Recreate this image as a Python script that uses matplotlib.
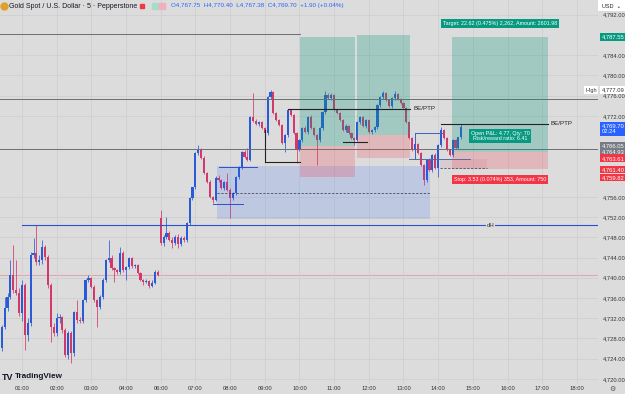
import numpy as np
import matplotlib.pyplot as plt
from matplotlib.lines import Line2D
from matplotlib.patches import Rectangle

plt.rcParams['font.family'] = ['Liberation Sans', 'DejaVu Sans']

# 5-minute XAUUSD candles, bar index counted from 00:00 (12 bars per hour slot)
first_bar = 5
opens = [
    4726.1, 4730.3, 4734.0, 4736.2, 4740.6, 4737.6, 4737.0, 4733.1, 4738.6, 4728.7,
    4731.1, 4744.5, 4744.9, 4743.1, 4743.5, 4746.1, 4744.1, 4738.6, 4730.3, 4729.0,
    4732.0, 4732.2, 4729.7, 4724.7, 4729.1, 4725.1, 4733.3, 4731.7, 4731.4, 4735.6,
    4739.6, 4739.9, 4738.2, 4735.6, 4734.2, 4736.2, 4739.6, 4743.5, 4744.0, 4741.9,
    4741.5, 4741.1, 4744.9, 4741.5, 4742.1, 4743.9, 4742.3, 4742.5, 4741.0, 4739.6,
    4739.2, 4739.4, 4738.4, 4739.0, 4741.1,
    4751.8, 4746.9, 4748.1, 4748.9, 4747.5, 4746.9, 4748.1, 4746.7, 4747.9, 4747.5,
    4750.8, 4755.8, 4757.9, 4764.7, 4765.3, 4763.7, 4760.7, 4758.9, 4756.0, 4755.4,
    4759.7, 4759.3, 4757.7, 4758.9, 4757.4, 4755.8, 4756.8, 4759.9, 4761.9, 4764.9,
    4763.9, 4763.3, 4771.8, 4771.0, 4770.4, 4770.8, 4769.6, 4768.6, 4775.7, 4776.7,
    4772.6, 4771.2, 4770.2, 4766.6, 4768.2, 4773.2, 4772.2, 4768.6, 4765.3, 4767.2,
    4769.6, 4768.8, 4771.8, 4769.6, 4768.2, 4767.2, 4769.6, 4772.8, 4776.1, 4775.5,
    4776.1, 4773.2, 4772.6, 4771.2, 4769.2, 4770.0, 4768.6, 4767.6, 4767.2, 4770.8,
    4771.8, 4770.0, 4771.2, 4768.8, 4769.2, 4769.8, 4774.1, 4775.7, 4776.5, 4775.1,
    4773.9, 4775.5, 4776.3, 4775.3, 4774.5, 4773.6, 4770.8, 4767.6, 4765.3, 4766.4,
    4764.7, 4762.3, 4759.3, 4763.3, 4761.3, 4764.3, 4761.7, 4766.2, 4769.2, 4767.6,
    4765.3, 4764.3, 4767.2, 4765.7, 4767.75,
]
highs = [
    4730.7, 4736.2, 4737.0, 4743.5, 4746.5, 4743.5, 4738.0, 4739.5, 4739.0, 4732.0,
    4745.0, 4747.9, 4750.4, 4744.5, 4747.5, 4746.5, 4744.5, 4739.0, 4731.0, 4733.0,
    4732.8, 4732.5, 4730.0, 4729.5, 4729.5, 4733.5, 4735.6, 4732.2, 4735.8, 4739.8,
    4740.6, 4740.2, 4738.5, 4735.9, 4736.5, 4739.9, 4743.8, 4747.5, 4744.5, 4742.2,
    4741.8, 4746.0, 4745.3, 4742.4, 4744.2, 4744.1, 4742.8, 4742.7, 4741.2, 4739.8,
    4739.8, 4739.6, 4739.5, 4741.5, 4741.5,
    4753.4, 4748.5, 4752.0, 4749.3, 4748.0, 4748.4, 4748.6, 4748.2, 4748.3, 4751.0,
    4756.0, 4758.0, 4764.9, 4766.2, 4765.7, 4764.1, 4761.0, 4759.3, 4756.2, 4760.1,
    4760.3, 4759.5, 4759.1, 4760.7, 4757.8, 4757.0, 4760.1, 4762.1, 4765.1, 4765.3,
    4765.7, 4772.0, 4776.5, 4771.4, 4771.0, 4771.0, 4769.8, 4775.9, 4777.09, 4776.9,
    4772.8, 4771.4, 4770.4, 4768.4, 4773.4, 4773.4, 4772.4, 4768.8, 4767.4, 4769.8,
    4769.9, 4772.0, 4772.1, 4769.8, 4768.5, 4769.8, 4773.0, 4777.0, 4776.6, 4776.5,
    4776.3, 4773.4, 4772.8, 4771.4, 4770.3, 4770.2, 4768.8, 4767.8, 4771.0, 4772.0,
    4772.0, 4771.4, 4771.4, 4769.4, 4770.0, 4774.3, 4775.9, 4776.9, 4776.7, 4775.3,
    4775.7, 4776.9, 4776.5, 4775.5, 4774.7, 4773.8, 4771.0, 4767.8, 4766.8, 4766.6,
    4764.9, 4762.5, 4763.5, 4763.6, 4764.5, 4764.6, 4766.4, 4769.8, 4769.4, 4767.8,
    4765.5, 4767.4, 4767.4, 4767.8, 4770.40,
]
lows = [
    4725.5, 4729.8, 4733.5, 4735.8, 4737.0, 4736.5, 4732.5, 4731.5, 4725.7, 4727.5,
    4730.5, 4744.0, 4742.5, 4742.5, 4742.8, 4743.5, 4738.0, 4727.3, 4728.5, 4728.5,
    4731.0, 4729.0, 4724.3, 4724.0, 4723.2, 4724.5, 4731.0, 4731.0, 4731.0, 4735.2,
    4739.2, 4737.9, 4735.3, 4730.3, 4733.8, 4735.8, 4739.2, 4743.1, 4741.6, 4739.2,
    4740.8, 4740.8, 4741.2, 4739.6, 4741.8, 4742.0, 4742.0, 4740.7, 4739.4, 4738.6,
    4738.9, 4738.0, 4738.1, 4738.7, 4740.3,
    4746.5, 4746.3, 4747.6, 4747.3, 4745.9, 4746.5, 4745.9, 4746.3, 4747.1, 4747.1,
    4750.4, 4755.4, 4757.5, 4764.3, 4763.5, 4760.5, 4758.7, 4755.8, 4754.8, 4755.2,
    4758.9, 4757.5, 4757.3, 4757.1, 4751.8, 4755.4, 4756.4, 4759.5, 4761.5, 4763.7,
    4763.0, 4763.0, 4770.8, 4770.2, 4770.0, 4769.4, 4768.4, 4768.2, 4775.3, 4772.4,
    4771.0, 4770.0, 4766.4, 4764.9, 4767.8, 4772.0, 4768.4, 4762.7, 4765.0, 4766.8,
    4768.6, 4768.4, 4769.4, 4768.0, 4762.3, 4766.8, 4769.2, 4772.4, 4775.3, 4775.2,
    4773.0, 4772.4, 4771.0, 4769.0, 4768.9, 4768.4, 4767.4, 4766.2, 4767.0, 4770.4,
    4769.8, 4769.6, 4768.6, 4768.4, 4768.8, 4769.4, 4773.8, 4775.3, 4774.9, 4773.7,
    4773.5, 4775.1, 4775.1, 4774.3, 4773.4, 4770.6, 4767.4, 4765.1, 4765.0, 4764.5,
    4762.1, 4758.3, 4759.0, 4761.1, 4760.9, 4761.5, 4759.9, 4765.9, 4767.4, 4765.1,
    4764.1, 4763.9, 4765.5, 4765.4, 4767.38,
]
closes = [
    4730.3, 4734.0, 4736.2, 4740.6, 4737.6, 4737.0, 4733.1, 4738.6, 4728.7, 4731.1,
    4744.5, 4744.9, 4743.1, 4743.5, 4746.1, 4744.1, 4738.6, 4730.3, 4729.0, 4732.0,
    4732.2, 4729.7, 4724.7, 4729.1, 4725.1, 4733.3, 4731.7, 4731.4, 4735.6, 4739.6,
    4739.9, 4738.2, 4735.6, 4734.2, 4736.2, 4739.6, 4743.5, 4744.0, 4741.9, 4741.5,
    4741.1, 4744.9, 4741.5, 4742.1, 4743.9, 4742.3, 4742.5, 4741.0, 4739.6, 4739.2,
    4739.4, 4738.4, 4739.0, 4741.1, 4740.6,
    4746.9, 4748.1, 4748.9, 4747.5, 4746.9, 4748.1, 4746.7, 4747.9, 4747.5, 4750.8,
    4755.8, 4757.9, 4764.7, 4765.3, 4763.7, 4760.7, 4758.9, 4756.0, 4755.4, 4759.7,
    4759.3, 4757.7, 4758.9, 4757.4, 4755.8, 4756.8, 4759.9, 4761.9, 4764.9, 4763.9,
    4763.3, 4771.8, 4771.0, 4770.4, 4770.8, 4769.6, 4768.6, 4775.7, 4776.7, 4772.6,
    4771.2, 4770.2, 4766.6, 4768.2, 4773.2, 4772.2, 4768.6, 4765.3, 4767.2, 4769.6,
    4768.8, 4771.8, 4769.6, 4768.2, 4767.2, 4769.6, 4772.8, 4776.1, 4775.5, 4776.1,
    4773.2, 4772.6, 4771.2, 4769.2, 4770.0, 4768.6, 4767.6, 4767.2, 4770.8, 4771.8,
    4770.0, 4771.2, 4768.8, 4769.2, 4769.8, 4774.1, 4775.7, 4776.5, 4775.1, 4773.9,
    4775.5, 4776.3, 4775.3, 4774.5, 4773.6, 4770.8, 4767.6, 4765.3, 4766.4, 4764.7,
    4762.3, 4759.3, 4763.3, 4761.3, 4764.3, 4761.7, 4766.2, 4769.2, 4767.6, 4765.3,
    4764.3, 4767.2, 4765.7, 4767.75, 4769.70,
]

hour_labels = ['01:00', '02:00', '03:00', '04:00', '06:00', '07:00', '08:00', '09:00',
               '10:00', '11:00', '12:00', '13:00', '14:00', '15:00', '16:00', '17:00', '18:00']
price_ticks = [4720, 4724, 4728, 4732, 4736, 4740, 4744, 4748, 4752, 4756,
               4772, 4776, 4780, 4784, 4792]

# drawn levels
dh_level = 4750.4
prev_close_level = 4740.6
grey_levels = [4775.3, 4765.5]
top_level = 4788.2
# long positions: (bar from, bar to, entry, stop, target)
positions = [(108.2, 127.2, 4766.05, 4759.82, 4787.6),
             (128.0, 146.3, 4768.2, 4763.61, 4788.0),
             (160.8, 194.0, 4764.93, 4761.40, 4787.55)]
# axis price tags: (price, text, colour)
tags = [(4787.55, '4,787.55', '#089981'),
        (4766.05, '4,766.05', '#787b86'),
        (4764.93, '4,764.93', '#787b86'),
        (4763.61, '4,763.61', '#f23645'),
        (4761.40, '4,761.40', '#f23645'),
        (4759.82, '4,759.82', '#f23645')]
last_close = 4769.70
high_mark = 4777.09

BG = '#dcdcdc'
UP = '#2a5bd7'
DOWN = '#d2386a'
AXFS = 4.2

W, H = 625, 394
fig = plt.figure(figsize=(W / 100, H / 100), dpi=100, facecolor=BG)
ax = fig.add_axes([0, 11 / H, 598 / W, 383 / H])
ax.set_facecolor(BG)
ax.set_xlim(4.4, 211.3)
ax.set_ylim(4719.2, 4794.9)
for s in ax.spines.values():
    s.set_visible(False)


def fpx(x, y):
    return x / W, 1 - y / H


# grid and axes
ax.set_xticks([12 * (k + 1) for k in range(len(hour_labels))])
ax.set_xticklabels(hour_labels)
ax.set_yticks(price_ticks)
ax.set_yticklabels(['{:,.2f}'.format(p) for p in price_ticks])
ax.yaxis.tick_right()
ax.tick_params(axis='x', length=0, pad=2.5, labelsize=AXFS, labelcolor='#333333')
ax.tick_params(axis='y', length=0, pad=3.5, labelsize=AXFS, labelcolor='#333333')
ax.grid(True, color='#d0d0d0', lw=0.6, zorder=0)

# candles
bars = np.arange(first_bar, first_bar + len(closes))
o, h, l, c = (np.array(v) for v in (opens, highs, lows, closes))
cols = np.where(c >= o, UP, DOWN)
ax.vlines(bars, l, h, colors=cols, lw=0.55, zorder=2)
ax.bar(bars, np.maximum(np.abs(c - o), 0.15), bottom=np.minimum(o, c),
       width=0.74, color=cols, lw=0, zorder=2)

# horizontal levels
ax.axhline(prev_close_level, color='#e39aa6', lw=0.6, zorder=1)
for g in grey_levels:
    ax.axhline(g, color='#6e6e6e', lw=0.7, zorder=3)
ax.plot([4.4, 108.2], [top_level, top_level], color='#6e6e6e', lw=0.7, zorder=3)
ax.plot([12, 211.3], [dh_level, dh_level], color='#2f4fd0', lw=0.8, zorder=3)
ax.text(174, dh_level, 'dH', fontsize=4.3, ha='center', va='center', color='#333',
        bbox=dict(boxstyle='square,pad=0.1', fc=BG, ec='none'), zorder=4)

# liquidity box
ax.add_patch(Rectangle((79.5, 4751.6), 153.2 - 79.5, 4762.1 - 4751.6,
                       fc='#2962ff', alpha=0.16, lw=0, zorder=3))
ax.plot([79.5, 153.2], [4756.8, 4756.8], color='#3d3d55', lw=0.55, ls=(0, (3, 2)), zorder=3)
ax.plot([80.2, 93.3], [4761.9, 4761.9], color='#2f4fd0', lw=0.7, zorder=3)
ax.plot([78.1, 88.5], [4754.6, 4754.6], color='#2f4fd0', lw=0.7, zorder=3)

# long positions
for x0, x1, entry, stop, target in positions:
    ax.add_patch(Rectangle((x0, entry), x1 - x0, target - entry,
                           fc='#089981', alpha=0.28, lw=0, zorder=3))
    ax.add_patch(Rectangle((x0, stop), x1 - x0, entry - stop,
                           fc='#f23645', alpha=0.22, lw=0, zorder=3))

# black structure lines
k = dict(color='#222222', lw=0.8, zorder=4)
ax.plot([96.1, 108.2], [4762.9, 4762.9], **k)
ax.plot([96.1, 96.1], [4762.9, 4769.2], **k)
ax.plot([104.0, 146.3], [4773.4, 4773.4], **k)
ax.plot([123.1, 131.4], [4766.8, 4766.8], **k)
ax.plot([157.0, 194.0], [4770.4, 4770.4], **k)
ax.text(147.3, 4773.4, 'BE/PTP', fontsize=4.4, va='center', color='#222', zorder=5)
ax.text(195.0, 4770.4, 'BE/PTP', fontsize=4.4, va='center', color='#222', zorder=5)

# small box near the last bars
ax.plot([148.0, 157.3], [4768.6, 4768.6], color='#3f5fc8', lw=0.7, zorder=4)
ax.plot([148.0, 148.0], [4768.6, 4763.5], color='#3f5fc8', lw=0.7, zorder=4)
ax.plot([145.9, 167.0], [4763.5, 4763.5], color='#5a6a9a', lw=0.7, zorder=4)
ax.add_patch(Rectangle((156.6, 4761.7), 172.9 - 156.6, 4763.5 - 4761.7,
                       fc='#c06080', alpha=0.12, lw=0, zorder=3))
ax.plot([156.6, 172.9], [4761.7, 4761.7], color='#3d3d55', lw=0.55, ls=(0, (3, 2)), zorder=3)

# position labels
box = lambda fc: dict(boxstyle='square,pad=0.35', fc=fc, ec='none')
ax.text(177.4, 4790.2, 'Target: 22.62 (0.475%) 2,262, Amount: 2601.98', fontsize=3.9,
        color='white', ha='center', va='center', bbox=box('#089981'), zorder=6)
ax.text(177.4, 4768.0, 'Open P&L: 4.77, Qty: 70\nRisk/reward ratio: 6.41', fontsize=3.9,
        color='white', ha='center', va='center', linespacing=1.1,
        bbox=box('#089981'), zorder=6)
ax.text(177.4, 4759.5, 'Stop: 3.53 (0.074%) 353, Amount: 750', fontsize=3.9,
        color='white', ha='center', va='center', bbox=box('#f23645'), zorder=6)

# price axis tags
yt = ax.get_yaxis_transform()
for p, t, fc in tags:
    ax.text(1.006, p, t, transform=yt, fontsize=AXFS, color='white', ha='left', va='center',
            bbox=dict(boxstyle='square,pad=0.25', fc=fc, ec='none'), clip_on=False, zorder=10)
ax.text(1.006, last_close - 0.3, '{:,.2f}\n02:24'.format(last_close), transform=yt,
        fontsize=AXFS, color='white', ha='left', va='center', linespacing=1.2,
        bbox=dict(boxstyle='square,pad=0.25', fc='#2962ff', ec='none'), clip_on=False, zorder=11)
ax.text(1.006, high_mark, '{:,.2f}'.format(high_mark), transform=yt, fontsize=AXFS,
        color='#333', ha='left', va='center',
        bbox=dict(boxstyle='square,pad=0.25', fc='white', ec='none'), clip_on=False, zorder=10)
ax.text(0.988, high_mark, 'High', transform=yt, fontsize=4.0, color='#333', ha='center',
        va='center', bbox=dict(boxstyle='square,pad=0.25', fc='white', ec='none'), zorder=10)

# USD box top right
fig.add_artist(Rectangle(fpx(598, 11), 27 / W, 11 / H, transform=fig.transFigure,
                         fc='white', ec='none', zorder=20))
fig.text(*fpx(602, 6), 'USD  ⌄', fontsize=4, va='center', color='#222', zorder=21)

# header
fig.add_artist(Line2D(*zip(fpx(4, 6)), marker='o', ms=5, color='#e0a12b',
                      transform=fig.transFigure))
fig.text(*fpx(9, 6), 'Gold Spot / U.S. Dollar · 5 · Pepperstone', fontsize=5.0,
         va='center', color='#131722')
fig.add_artist(Line2D(*zip(fpx(142, 6)), marker='s', ms=3.3, color='#f23645',
                      transform=fig.transFigure))
fig.add_artist(Line2D(*zip(fpx(155, 6)), marker='s', ms=3.8, color='#a8dcc8',
                      transform=fig.transFigure))
fig.add_artist(Line2D(*zip(fpx(162, 6)), marker='s', ms=3.8, color='#f0b0c0',
                      transform=fig.transFigure))
fig.text(*fpx(171, 6), 'O4,767.75  H4,770.40  L4,767.38  C4,769.70  +1.90 (+0.04%)',
         fontsize=4.5, va='center', color='#2962ff')

# logo and footer
fig.text(*fpx(2, 377), 'TV', fontsize=6.5, fontweight='heavy', va='center', color='#131722')
fig.text(*fpx(15, 377), 'TradingView', fontsize=5.9, fontweight='bold', va='center',
         color='#131722')
fig.text(*fpx(612, 389), '⚙', fontsize=5, va='center', ha='center', color='#555')

fig.savefig('out.png', dpi=100, facecolor=BG)
